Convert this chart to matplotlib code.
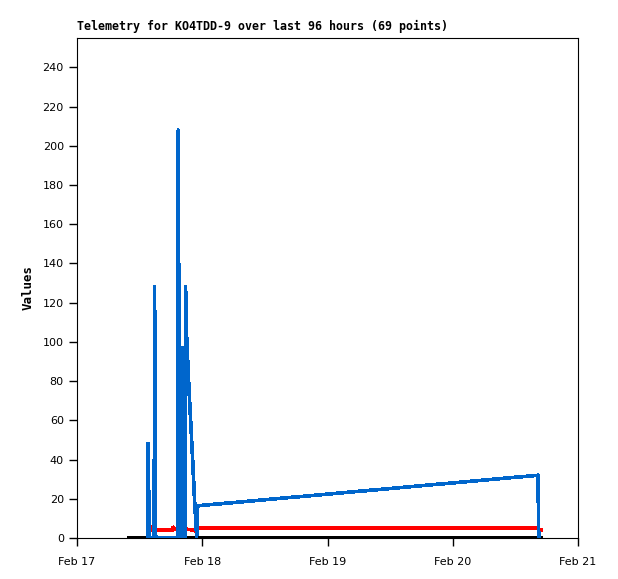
import pandas as pd
import matplotlib
matplotlib.use('Agg')
import matplotlib.pyplot as plt
import matplotlib.dates as mdates

# Start of the 96 hour window
start = pd.Timestamp('2025-02-17 00:00')

# Channel 1 (blue): hours after start, value
blue_hours = [13.58, 13.66, 13.78, 13.87, 14.79, 14.87, 15.00, 15.08,
              19.33, 19.41, 19.46, 19.51, 19.56, 19.62, 19.67, 19.72, 19.77,
              19.81, 19.86, 19.91, 19.96, 20.02, 20.06, 20.10, 20.15, 20.20,
              20.25, 20.29, 20.35, 20.41, 20.47, 20.54, 20.73, 20.81, 20.94,
              21.10, 21.27, 21.46, 21.65, 21.85, 22.04, 22.23, 22.42,
              22.61, 22.80, 22.92, 23.05, 23.38, 88.33, 88.48]
blue_vals = [48, 0, 24, 0, 0, 128, 24, 0,
             0, 208, 0, 140, 0, 112, 0, 96, 0,
             84, 0, 70, 0, 48, 0, 60, 0, 97,
             0, 80, 0, 48, 0, 0, 0, 128, 107,
             97, 87, 76, 66, 56, 46, 36, 25,
             15, 8, 0, 16, 16.5, 32, 0]

# Channel 2 (red)
red_hours = [14.12, 14.27, 18.30, 18.43, 18.59, 20.89, 22.61, 22.90, 23.09, 88.33, 88.62, 89.00]
red_vals = [5.5, 4, 4, 5.5, 4.5, 4.5, 4, 3, 5, 5, 4, 4]

# Channel 3 (black), flat zero
black_hours = [10.0, 89.0]
black_vals = [0, 0]

tick_days = ['2025-02-17', '2025-02-18', '2025-02-19', '2025-02-20', '2025-02-21']
y_ticks = list(range(0, 241, 20))


def to_time(hours):
    return [start + pd.Timedelta(hours=h) for h in hours]


fig = plt.figure(figsize=(6.18, 5.79), dpi=100)
ax = fig.add_axes([0.1246, 0.0708, 0.8107, 0.8636])

ax.plot(to_time(black_hours), black_vals, color='black', lw=2.6, antialiased=False, zorder=3)
ax.plot(to_time(red_hours), red_vals, color='#ff0000', lw=1.9, antialiased=False, zorder=2)
ax.plot(to_time(blue_hours), blue_vals, color='#0066cc', lw=1.9, antialiased=False, zorder=4)

ax.set_xlim(pd.Timestamp(tick_days[0]), pd.Timestamp(tick_days[-1]))
ax.set_ylim(0, 255)
ax.set_xticks([pd.Timestamp(d) for d in tick_days])
ax.xaxis.set_major_formatter(mdates.DateFormatter('%b %d'))
ax.set_yticks(y_ticks)

ax.tick_params(axis='both', direction='out', length=6, width=1, labelsize=8, colors='black')
ax.tick_params(axis='x', pad=8)
for s in ax.spines.values():
    s.set_linewidth(0.8)

ax.set_ylabel('Values', fontfamily='DejaVu Sans Mono', fontweight='bold', fontsize=9, labelpad=6)
fig.text(0.1246, 0.943, 'Telemetry for KO4TDD-9 over last 96 hours (69 points)',
         fontfamily='DejaVu Sans Mono', fontweight='bold', fontsize=8.35, ha='left', va='bottom')

fig.savefig('out.png', dpi=100)
